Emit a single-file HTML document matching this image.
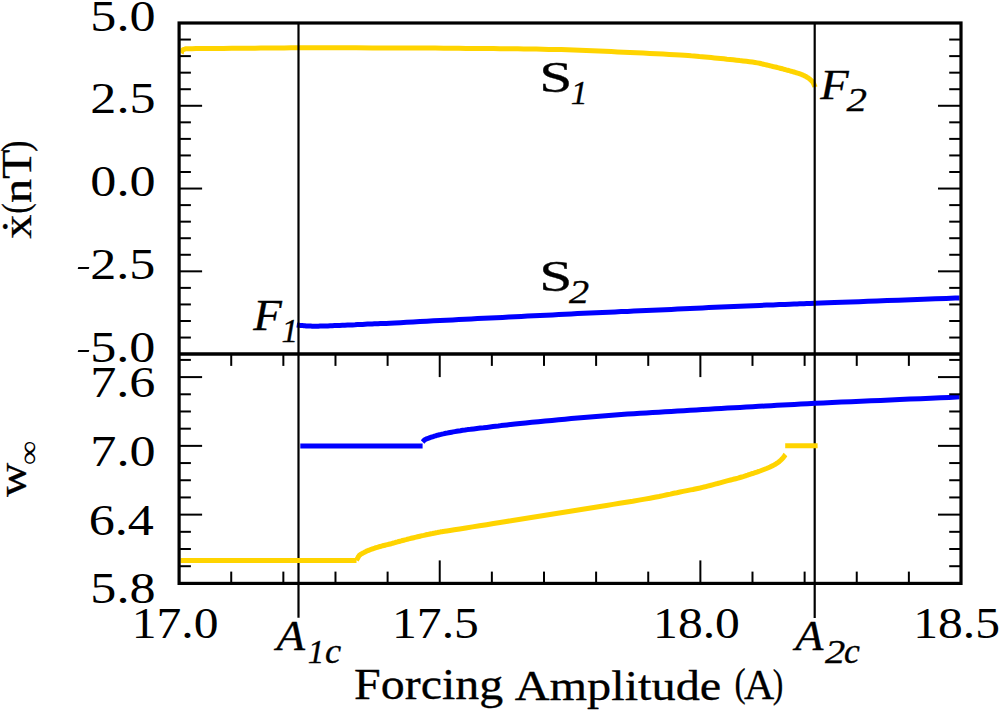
<!DOCTYPE html>
<html><head><meta charset="utf-8"><style>
html,body{margin:0;padding:0;background:#fff;}
body{width:1000px;height:710px;overflow:hidden;}
svg{display:block;}
text{font-family:"Liberation Serif",serif;fill:#000;}
</style></head><body>
<svg width="1000" height="710" viewBox="0 0 1000 710">
<defs><clipPath id="cu"><rect x="180.6" y="24.5" width="778.9" height="328.1"/></clipPath><clipPath id="cl"><rect x="180.6" y="355.6" width="778.9" height="226.3"/></clipPath></defs>
<rect width="1000" height="710" fill="#fff"/>
<g clip-path="url(#cu)">
<polyline points="181.2,53.2 181.4,52.9 181.5,52.4 181.6,51.9 181.8,51.3 182.2,50.7 182.6,50.1 183.2,49.7 184.0,49.3 184.7,49.1 185.3,48.9 185.8,48.8 186.5,48.7 187.7,48.7 189.5,48.7 192.2,48.7 196.0,48.6 201.2,48.5 207.8,48.5 215.3,48.4 223.4,48.4 231.8,48.3 240.1,48.3 248.0,48.2 255.0,48.2 260.8,48.1 265.6,48.1 269.8,48.0 274.0,48.0 278.6,47.9 284.2,47.9 291.1,47.8 300.0,47.8 311.4,47.8 325.0,47.8 340.2,47.8 356.2,47.8 372.5,47.9 388.1,47.9 402.5,48.0 415.0,48.0 425.6,48.0 435.1,48.1 443.7,48.2 451.6,48.2 458.9,48.3 466.0,48.4 472.9,48.4 480.0,48.5 487.0,48.6 493.6,48.6 499.8,48.7 505.9,48.7 511.9,48.8 517.9,48.8 523.9,48.9 530.0,49.0 536.2,49.1 542.5,49.2 548.8,49.4 555.0,49.5 561.2,49.6 567.5,49.8 573.8,50.0 580.0,50.2 586.2,50.4 592.5,50.7 598.8,51.0 605.0,51.3 611.2,51.6 617.5,51.9 623.8,52.2 630.0,52.5 636.4,52.8 643.1,53.1 649.8,53.4 656.6,53.8 663.1,54.1 669.3,54.4 674.9,54.7 680.0,55.0 684.3,55.3 688.0,55.5 691.2,55.8 694.1,56.0 696.7,56.2 699.3,56.5 702.0,56.7 705.0,57.0 708.1,57.3 711.2,57.6 714.4,57.9 717.5,58.2 720.6,58.5 723.8,58.8 726.9,59.2 730.0,59.5 733.2,59.8 736.5,60.2 739.8,60.6 743.1,60.9 746.4,61.3 749.5,61.7 752.4,62.1 755.0,62.5 757.4,62.9 759.6,63.3 761.6,63.8 763.4,64.2 765.2,64.6 766.8,65.0 768.4,65.4 770.0,65.8 771.5,66.1 772.9,66.5 774.1,66.8 775.3,67.0 776.5,67.3 777.6,67.6 778.8,67.9 780.0,68.2 781.2,68.5 782.5,68.8 783.8,69.2 785.0,69.5 786.2,69.9 787.5,70.2 788.8,70.5 790.0,70.9 791.3,71.3 792.6,71.6 793.9,72.0 795.2,72.4 796.5,72.8 797.8,73.2 798.9,73.5 800.0,73.9 801.0,74.3 801.8,74.6 802.6,74.9 803.4,75.3 804.1,75.6 804.7,75.9 805.4,76.3 806.0,76.6 806.6,76.9 807.2,77.3 807.7,77.6 808.2,77.9 808.7,78.3 809.1,78.6 809.6,78.9 810.0,79.3 810.4,79.7 810.8,80.0 811.2,80.4 811.6,80.8 812.0,81.2 812.3,81.6 812.7,82.0 813.0,82.5 813.3,83.0 813.6,83.6 813.9,84.3 814.2,85.0 814.4,85.6 814.7,86.2 814.9,86.6 815.0,87.0" fill="none" stroke="#FFD400" stroke-width="5.0" stroke-linejoin="round"/>
<polyline points="296.8,325.0 297.4,325.1 298.2,325.2 299.2,325.3 300.3,325.4 301.4,325.5 302.6,325.6 303.8,325.7 305.0,325.8 306.1,325.9 307.3,325.9 308.4,326.0 309.6,326.1 310.8,326.1 312.1,326.2 313.5,326.2 315.0,326.2 316.6,326.2 318.3,326.2 320.0,326.1 321.9,326.1 323.8,326.0 325.8,325.9 327.9,325.9 330.0,325.8 332.3,325.7 334.6,325.6 337.1,325.5 339.7,325.4 342.3,325.3 344.9,325.2 347.5,325.1 350.0,325.0 352.5,324.9 355.0,324.8 357.5,324.6 360.0,324.5 362.5,324.4 365.0,324.2 367.5,324.1 370.0,324.0 372.3,323.9 374.3,323.8 376.2,323.8 378.1,323.7 380.3,323.6 382.9,323.5 386.1,323.4 390.0,323.2 394.8,323.0 400.4,322.7 406.6,322.3 413.1,322.0 419.9,321.6 426.8,321.2 433.5,320.8 440.0,320.5 446.2,320.2 452.5,319.9 458.8,319.5 465.0,319.2 471.2,318.9 477.5,318.6 483.8,318.3 490.0,318.0 496.2,317.7 502.5,317.4 508.8,317.1 515.0,316.8 521.2,316.4 527.5,316.1 533.8,315.8 540.0,315.5 546.2,315.2 552.5,314.9 558.8,314.5 565.0,314.2 571.2,313.9 577.5,313.6 583.8,313.3 590.0,313.0 596.2,312.7 602.5,312.4 608.8,312.2 615.0,311.9 621.2,311.6 627.5,311.4 633.8,311.1 640.0,310.8 646.2,310.5 652.5,310.2 658.8,309.9 665.0,309.7 671.2,309.4 677.5,309.1 683.8,308.8 690.0,308.5 696.2,308.2 702.5,307.9 708.8,307.6 715.0,307.3 721.2,307.0 727.5,306.8 733.8,306.5 740.0,306.2 746.4,305.9 753.1,305.7 759.8,305.4 766.6,305.1 773.1,304.9 779.3,304.6 784.9,304.4 790.0,304.2 794.1,304.0 797.1,303.9 799.6,303.8 801.8,303.8 804.0,303.7 806.7,303.6 810.3,303.5 815.0,303.3 820.8,303.1 827.4,302.8 834.5,302.6 842.2,302.3 850.4,302.0 859.0,301.7 867.9,301.3 877.0,301.0 887.1,300.6 898.6,300.2 910.9,299.7 923.4,299.3 935.3,298.8 946.2,298.4 955.3,298.1 962.0,297.8" fill="none" stroke="#0000FF" stroke-width="5.0" stroke-linejoin="round"/>
</g>
<line x1="298.50" y1="23.00" x2="298.50" y2="617.80" stroke="#000" stroke-width="2.2" stroke-linecap="butt"/>
<line x1="814.70" y1="23.00" x2="814.70" y2="618.00" stroke="#000" stroke-width="2.2" stroke-linecap="butt"/>
<g clip-path="url(#cl)">
<polyline points="300.3,446.0 422.6,446.0" fill="none" stroke="#0000FF" stroke-width="5.0" stroke-linejoin="round"/>
<polyline points="422.6,442.0 422.8,441.8 423.0,441.6 423.2,441.3 423.5,440.9 423.8,440.6 424.2,440.2 424.6,439.9 425.0,439.6 425.5,439.3 426.1,439.1 426.7,438.8 427.3,438.6 428.0,438.3 428.7,438.1 429.4,437.8 430.0,437.6 430.6,437.4 431.2,437.2 431.9,437.0 432.5,436.8 433.1,436.6 433.8,436.4 434.4,436.2 435.0,436.0 435.6,435.8 436.1,435.7 436.7,435.5 437.2,435.3 437.8,435.2 438.4,435.0 439.1,434.8 440.0,434.6 441.0,434.4 442.0,434.1 443.2,433.9 444.4,433.6 445.7,433.3 447.0,433.1 448.5,432.8 450.0,432.5 451.6,432.2 453.2,431.9 454.8,431.6 456.6,431.3 458.4,431.0 460.4,430.7 462.6,430.3 465.0,430.0 467.6,429.6 470.5,429.3 473.6,428.9 476.9,428.5 480.2,428.1 483.5,427.8 486.8,427.4 490.0,427.0 493.0,426.6 495.7,426.3 498.3,426.0 500.9,425.6 503.8,425.3 507.0,424.9 510.7,424.5 515.0,424.0 520.1,423.5 525.7,422.9 531.9,422.3 538.4,421.7 545.2,421.0 551.9,420.4 558.6,419.8 565.0,419.2 571.2,418.6 577.5,418.1 583.8,417.5 590.0,417.0 596.2,416.5 602.5,416.0 608.8,415.5 615.0,415.0 621.2,414.6 627.5,414.1 633.8,413.7 640.0,413.3 646.2,412.9 652.5,412.6 658.8,412.2 665.0,411.8 671.2,411.4 677.5,411.0 683.8,410.7 690.0,410.3 696.2,409.9 702.5,409.5 708.8,409.2 715.0,408.8 721.2,408.4 727.5,408.1 733.8,407.7 740.0,407.4 746.2,407.0 752.5,406.7 758.8,406.3 765.0,406.0 771.1,405.7 776.9,405.3 782.7,405.0 788.4,404.7 794.4,404.4 800.7,404.0 807.6,403.7 815.0,403.3 823.2,402.9 832.1,402.5 841.4,402.1 851.1,401.7 861.0,401.3 870.9,400.8 880.6,400.4 890.0,400.0 899.6,399.6 909.9,399.1 920.4,398.7 930.7,398.2 940.4,397.8 949.1,397.4 956.5,397.0 962.0,396.8" fill="none" stroke="#0000FF" stroke-width="5.0" stroke-linejoin="round"/>
<polyline points="179.0,560.6 356.5,560.6" fill="none" stroke="#FFD400" stroke-width="5.0" stroke-linejoin="round"/>
<polyline points="356.5,560.3 356.6,560.1 356.8,559.8 356.9,559.5 357.1,559.1 357.3,558.7 357.6,558.3 357.8,557.9 358.0,557.5 358.2,557.2 358.4,556.8 358.6,556.5 358.8,556.1 359.0,555.8 359.3,555.5 359.6,555.1 360.0,554.8 360.5,554.5 361.0,554.1 361.7,553.7 362.3,553.4 363.0,553.0 363.7,552.7 364.4,552.3 365.0,552.0 365.6,551.7 366.1,551.4 366.7,551.2 367.2,550.9 367.8,550.7 368.4,550.4 369.1,550.1 370.0,549.8 371.0,549.4 372.1,549.0 373.4,548.6 374.7,548.2 376.0,547.7 377.4,547.3 378.7,546.9 380.0,546.5 381.2,546.2 382.5,545.8 383.8,545.5 385.0,545.2 386.2,544.9 387.5,544.6 388.8,544.3 390.0,544.0 391.2,543.7 392.5,543.3 393.8,543.0 395.0,542.6 396.2,542.2 397.5,541.9 398.8,541.5 400.0,541.2 401.2,540.9 402.5,540.5 403.8,540.2 405.0,539.9 406.2,539.6 407.5,539.2 408.8,538.9 410.0,538.6 411.2,538.3 412.5,538.0 413.8,537.7 415.0,537.4 416.2,537.1 417.5,536.8 418.8,536.5 420.0,536.2 421.2,535.9 422.5,535.6 423.8,535.4 425.0,535.1 426.2,534.8 427.5,534.5 428.8,534.3 430.0,534.0 431.2,533.7 432.5,533.5 433.8,533.2 435.0,533.0 436.2,532.7 437.5,532.5 438.8,532.2 440.0,532.0 441.0,531.8 441.6,531.7 442.0,531.7 442.5,531.6 443.3,531.5 444.7,531.3 446.8,531.0 450.0,530.5 454.3,529.8 459.7,529.0 465.8,528.0 472.5,526.9 479.5,525.8 486.6,524.7 493.5,523.5 500.0,522.5 506.2,521.5 512.5,520.5 518.8,519.5 525.0,518.5 531.2,517.5 537.5,516.5 543.8,515.5 550.0,514.5 556.2,513.5 562.5,512.5 568.8,511.5 575.0,510.5 581.2,509.5 587.5,508.5 593.8,507.5 600.0,506.5 606.4,505.5 613.0,504.4 619.6,503.3 626.2,502.2 632.7,501.2 638.9,500.1 644.7,499.1 650.0,498.2 654.8,497.3 659.1,496.5 663.2,495.6 666.9,494.8 670.4,494.1 673.7,493.3 676.9,492.7 680.0,492.0 683.0,491.4 685.7,490.9 688.2,490.4 690.6,489.9 692.9,489.5 695.2,489.0 697.6,488.5 700.0,488.0 702.5,487.4 705.0,486.8 707.5,486.1 710.0,485.5 712.5,484.8 715.0,484.1 717.5,483.5 720.0,482.8 722.6,482.1 725.2,481.4 727.9,480.7 730.6,480.0 733.2,479.3 735.7,478.7 738.0,478.1 740.0,477.5 741.7,477.0 743.2,476.6 744.5,476.2 745.6,475.8 746.7,475.4 747.7,475.1 748.8,474.7 750.0,474.3 751.2,473.9 752.5,473.5 753.8,473.1 755.0,472.7 756.2,472.3 757.5,471.9 758.8,471.4 760.0,471.0 761.3,470.5 762.6,470.0 763.9,469.5 765.2,469.0 766.5,468.5 767.7,468.0 768.9,467.5 770.0,467.0 771.0,466.5 772.0,466.0 772.9,465.6 773.8,465.1 774.7,464.6 775.5,464.2 776.2,463.7 777.0,463.2 777.7,462.7 778.4,462.2 779.1,461.7 779.7,461.1 780.3,460.6 780.9,460.1 781.5,459.5 782.0,459.0 782.5,458.4 783.1,457.8 783.6,457.1 784.1,456.5 784.5,455.9 784.9,455.3 785.2,454.8 785.5,454.5" fill="none" stroke="#FFD400" stroke-width="5.0" stroke-linejoin="round"/>
<polyline points="785.2,445.8 817.6,445.8" fill="none" stroke="#FFD400" stroke-width="5.0" stroke-linejoin="round"/>
</g>
<line x1="179.10" y1="337.55" x2="190.90" y2="337.55" stroke="#000" stroke-width="2.0" stroke-linecap="butt"/>
<line x1="961.00" y1="337.55" x2="949.20" y2="337.55" stroke="#000" stroke-width="2.0" stroke-linecap="butt"/>
<line x1="179.10" y1="320.99" x2="190.90" y2="320.99" stroke="#000" stroke-width="2.0" stroke-linecap="butt"/>
<line x1="961.00" y1="320.99" x2="949.20" y2="320.99" stroke="#000" stroke-width="2.0" stroke-linecap="butt"/>
<line x1="179.10" y1="304.44" x2="190.90" y2="304.44" stroke="#000" stroke-width="2.0" stroke-linecap="butt"/>
<line x1="961.00" y1="304.44" x2="949.20" y2="304.44" stroke="#000" stroke-width="2.0" stroke-linecap="butt"/>
<line x1="179.10" y1="287.88" x2="190.90" y2="287.88" stroke="#000" stroke-width="2.0" stroke-linecap="butt"/>
<line x1="961.00" y1="287.88" x2="949.20" y2="287.88" stroke="#000" stroke-width="2.0" stroke-linecap="butt"/>
<line x1="179.10" y1="271.33" x2="202.10" y2="271.33" stroke="#000" stroke-width="2.0" stroke-linecap="butt"/>
<line x1="961.00" y1="271.33" x2="938.00" y2="271.33" stroke="#000" stroke-width="2.0" stroke-linecap="butt"/>
<line x1="179.10" y1="254.77" x2="190.90" y2="254.77" stroke="#000" stroke-width="2.0" stroke-linecap="butt"/>
<line x1="961.00" y1="254.77" x2="949.20" y2="254.77" stroke="#000" stroke-width="2.0" stroke-linecap="butt"/>
<line x1="179.10" y1="238.22" x2="190.90" y2="238.22" stroke="#000" stroke-width="2.0" stroke-linecap="butt"/>
<line x1="961.00" y1="238.22" x2="949.20" y2="238.22" stroke="#000" stroke-width="2.0" stroke-linecap="butt"/>
<line x1="179.10" y1="221.66" x2="190.90" y2="221.66" stroke="#000" stroke-width="2.0" stroke-linecap="butt"/>
<line x1="961.00" y1="221.66" x2="949.20" y2="221.66" stroke="#000" stroke-width="2.0" stroke-linecap="butt"/>
<line x1="179.10" y1="205.11" x2="190.90" y2="205.11" stroke="#000" stroke-width="2.0" stroke-linecap="butt"/>
<line x1="961.00" y1="205.11" x2="949.20" y2="205.11" stroke="#000" stroke-width="2.0" stroke-linecap="butt"/>
<line x1="179.10" y1="188.55" x2="202.10" y2="188.55" stroke="#000" stroke-width="2.0" stroke-linecap="butt"/>
<line x1="961.00" y1="188.55" x2="938.00" y2="188.55" stroke="#000" stroke-width="2.0" stroke-linecap="butt"/>
<line x1="179.10" y1="172.00" x2="190.90" y2="172.00" stroke="#000" stroke-width="2.0" stroke-linecap="butt"/>
<line x1="961.00" y1="172.00" x2="949.20" y2="172.00" stroke="#000" stroke-width="2.0" stroke-linecap="butt"/>
<line x1="179.10" y1="155.44" x2="190.90" y2="155.44" stroke="#000" stroke-width="2.0" stroke-linecap="butt"/>
<line x1="961.00" y1="155.44" x2="949.20" y2="155.44" stroke="#000" stroke-width="2.0" stroke-linecap="butt"/>
<line x1="179.10" y1="138.89" x2="190.90" y2="138.89" stroke="#000" stroke-width="2.0" stroke-linecap="butt"/>
<line x1="961.00" y1="138.89" x2="949.20" y2="138.89" stroke="#000" stroke-width="2.0" stroke-linecap="butt"/>
<line x1="179.10" y1="122.33" x2="190.90" y2="122.33" stroke="#000" stroke-width="2.0" stroke-linecap="butt"/>
<line x1="961.00" y1="122.33" x2="949.20" y2="122.33" stroke="#000" stroke-width="2.0" stroke-linecap="butt"/>
<line x1="179.10" y1="105.78" x2="202.10" y2="105.78" stroke="#000" stroke-width="2.0" stroke-linecap="butt"/>
<line x1="961.00" y1="105.78" x2="938.00" y2="105.78" stroke="#000" stroke-width="2.0" stroke-linecap="butt"/>
<line x1="179.10" y1="89.22" x2="190.90" y2="89.22" stroke="#000" stroke-width="2.0" stroke-linecap="butt"/>
<line x1="961.00" y1="89.22" x2="949.20" y2="89.22" stroke="#000" stroke-width="2.0" stroke-linecap="butt"/>
<line x1="179.10" y1="72.67" x2="190.90" y2="72.67" stroke="#000" stroke-width="2.0" stroke-linecap="butt"/>
<line x1="961.00" y1="72.67" x2="949.20" y2="72.67" stroke="#000" stroke-width="2.0" stroke-linecap="butt"/>
<line x1="179.10" y1="56.11" x2="190.90" y2="56.11" stroke="#000" stroke-width="2.0" stroke-linecap="butt"/>
<line x1="961.00" y1="56.11" x2="949.20" y2="56.11" stroke="#000" stroke-width="2.0" stroke-linecap="butt"/>
<line x1="179.10" y1="39.56" x2="190.90" y2="39.56" stroke="#000" stroke-width="2.0" stroke-linecap="butt"/>
<line x1="961.00" y1="39.56" x2="949.20" y2="39.56" stroke="#000" stroke-width="2.0" stroke-linecap="butt"/>
<line x1="179.10" y1="566.21" x2="190.90" y2="566.21" stroke="#000" stroke-width="2.0" stroke-linecap="butt"/>
<line x1="961.00" y1="566.21" x2="949.20" y2="566.21" stroke="#000" stroke-width="2.0" stroke-linecap="butt"/>
<line x1="179.10" y1="549.02" x2="190.90" y2="549.02" stroke="#000" stroke-width="2.0" stroke-linecap="butt"/>
<line x1="961.00" y1="549.02" x2="949.20" y2="549.02" stroke="#000" stroke-width="2.0" stroke-linecap="butt"/>
<line x1="179.10" y1="531.82" x2="190.90" y2="531.82" stroke="#000" stroke-width="2.0" stroke-linecap="butt"/>
<line x1="961.00" y1="531.82" x2="949.20" y2="531.82" stroke="#000" stroke-width="2.0" stroke-linecap="butt"/>
<line x1="179.10" y1="514.63" x2="202.10" y2="514.63" stroke="#000" stroke-width="2.0" stroke-linecap="butt"/>
<line x1="961.00" y1="514.63" x2="938.00" y2="514.63" stroke="#000" stroke-width="2.0" stroke-linecap="butt"/>
<line x1="179.10" y1="497.44" x2="190.90" y2="497.44" stroke="#000" stroke-width="2.0" stroke-linecap="butt"/>
<line x1="961.00" y1="497.44" x2="949.20" y2="497.44" stroke="#000" stroke-width="2.0" stroke-linecap="butt"/>
<line x1="179.10" y1="480.25" x2="190.90" y2="480.25" stroke="#000" stroke-width="2.0" stroke-linecap="butt"/>
<line x1="961.00" y1="480.25" x2="949.20" y2="480.25" stroke="#000" stroke-width="2.0" stroke-linecap="butt"/>
<line x1="179.10" y1="463.06" x2="190.90" y2="463.06" stroke="#000" stroke-width="2.0" stroke-linecap="butt"/>
<line x1="961.00" y1="463.06" x2="949.20" y2="463.06" stroke="#000" stroke-width="2.0" stroke-linecap="butt"/>
<line x1="179.10" y1="445.87" x2="202.10" y2="445.87" stroke="#000" stroke-width="2.0" stroke-linecap="butt"/>
<line x1="961.00" y1="445.87" x2="938.00" y2="445.87" stroke="#000" stroke-width="2.0" stroke-linecap="butt"/>
<line x1="179.10" y1="428.68" x2="190.90" y2="428.68" stroke="#000" stroke-width="2.0" stroke-linecap="butt"/>
<line x1="961.00" y1="428.68" x2="949.20" y2="428.68" stroke="#000" stroke-width="2.0" stroke-linecap="butt"/>
<line x1="179.10" y1="411.48" x2="190.90" y2="411.48" stroke="#000" stroke-width="2.0" stroke-linecap="butt"/>
<line x1="961.00" y1="411.48" x2="949.20" y2="411.48" stroke="#000" stroke-width="2.0" stroke-linecap="butt"/>
<line x1="179.10" y1="394.29" x2="190.90" y2="394.29" stroke="#000" stroke-width="2.0" stroke-linecap="butt"/>
<line x1="961.00" y1="394.29" x2="949.20" y2="394.29" stroke="#000" stroke-width="2.0" stroke-linecap="butt"/>
<line x1="179.10" y1="377.10" x2="202.10" y2="377.10" stroke="#000" stroke-width="2.0" stroke-linecap="butt"/>
<line x1="961.00" y1="377.10" x2="938.00" y2="377.10" stroke="#000" stroke-width="2.0" stroke-linecap="butt"/>
<line x1="179.10" y1="359.91" x2="190.90" y2="359.91" stroke="#000" stroke-width="2.0" stroke-linecap="butt"/>
<line x1="961.00" y1="359.91" x2="949.20" y2="359.91" stroke="#000" stroke-width="2.0" stroke-linecap="butt"/>
<line x1="231.23" y1="583.40" x2="231.23" y2="571.60" stroke="#000" stroke-width="2.0" stroke-linecap="butt"/>
<line x1="231.23" y1="354.10" x2="231.23" y2="365.90" stroke="#000" stroke-width="2.0" stroke-linecap="butt"/>
<line x1="283.35" y1="583.40" x2="283.35" y2="571.60" stroke="#000" stroke-width="2.0" stroke-linecap="butt"/>
<line x1="283.35" y1="354.10" x2="283.35" y2="365.90" stroke="#000" stroke-width="2.0" stroke-linecap="butt"/>
<line x1="335.48" y1="583.40" x2="335.48" y2="571.60" stroke="#000" stroke-width="2.0" stroke-linecap="butt"/>
<line x1="335.48" y1="354.10" x2="335.48" y2="365.90" stroke="#000" stroke-width="2.0" stroke-linecap="butt"/>
<line x1="387.61" y1="583.40" x2="387.61" y2="571.60" stroke="#000" stroke-width="2.0" stroke-linecap="butt"/>
<line x1="387.61" y1="354.10" x2="387.61" y2="365.90" stroke="#000" stroke-width="2.0" stroke-linecap="butt"/>
<line x1="439.73" y1="583.40" x2="439.73" y2="560.40" stroke="#000" stroke-width="2.0" stroke-linecap="butt"/>
<line x1="439.73" y1="354.10" x2="439.73" y2="377.10" stroke="#000" stroke-width="2.0" stroke-linecap="butt"/>
<line x1="491.86" y1="583.40" x2="491.86" y2="571.60" stroke="#000" stroke-width="2.0" stroke-linecap="butt"/>
<line x1="491.86" y1="354.10" x2="491.86" y2="365.90" stroke="#000" stroke-width="2.0" stroke-linecap="butt"/>
<line x1="543.99" y1="583.40" x2="543.99" y2="571.60" stroke="#000" stroke-width="2.0" stroke-linecap="butt"/>
<line x1="543.99" y1="354.10" x2="543.99" y2="365.90" stroke="#000" stroke-width="2.0" stroke-linecap="butt"/>
<line x1="596.11" y1="583.40" x2="596.11" y2="571.60" stroke="#000" stroke-width="2.0" stroke-linecap="butt"/>
<line x1="596.11" y1="354.10" x2="596.11" y2="365.90" stroke="#000" stroke-width="2.0" stroke-linecap="butt"/>
<line x1="648.24" y1="583.40" x2="648.24" y2="571.60" stroke="#000" stroke-width="2.0" stroke-linecap="butt"/>
<line x1="648.24" y1="354.10" x2="648.24" y2="365.90" stroke="#000" stroke-width="2.0" stroke-linecap="butt"/>
<line x1="700.37" y1="583.40" x2="700.37" y2="560.40" stroke="#000" stroke-width="2.0" stroke-linecap="butt"/>
<line x1="700.37" y1="354.10" x2="700.37" y2="377.10" stroke="#000" stroke-width="2.0" stroke-linecap="butt"/>
<line x1="752.49" y1="583.40" x2="752.49" y2="571.60" stroke="#000" stroke-width="2.0" stroke-linecap="butt"/>
<line x1="752.49" y1="354.10" x2="752.49" y2="365.90" stroke="#000" stroke-width="2.0" stroke-linecap="butt"/>
<line x1="804.62" y1="583.40" x2="804.62" y2="571.60" stroke="#000" stroke-width="2.0" stroke-linecap="butt"/>
<line x1="804.62" y1="354.10" x2="804.62" y2="365.90" stroke="#000" stroke-width="2.0" stroke-linecap="butt"/>
<line x1="856.75" y1="583.40" x2="856.75" y2="571.60" stroke="#000" stroke-width="2.0" stroke-linecap="butt"/>
<line x1="856.75" y1="354.10" x2="856.75" y2="365.90" stroke="#000" stroke-width="2.0" stroke-linecap="butt"/>
<line x1="908.87" y1="583.40" x2="908.87" y2="571.60" stroke="#000" stroke-width="2.0" stroke-linecap="butt"/>
<line x1="908.87" y1="354.10" x2="908.87" y2="365.90" stroke="#000" stroke-width="2.0" stroke-linecap="butt"/>
<polygon points="78.3,267 89.3,267 88.7,269 77.7,269" fill="#000"/>
<polygon points="78.3,349.9 89.3,349.9 88.7,351.9 77.7,351.9" fill="#000"/>
<rect x="179.1" y="23.0" width="781.90" height="560.40" fill="none" stroke="#000" stroke-width="3.2"/>
<line x1="179.1" y1="354.1" x2="961.0" y2="354.1" stroke="#000" stroke-width="3.5"/>
<text transform="translate(90.35,30.80) scale(1.1990,0.9969)" font-size="43.5">5.0</text>
<text transform="translate(90.35,112.90) scale(1.1990,0.9969)" font-size="43.5">2.5</text>
<text transform="translate(90.35,196.30) scale(1.1990,0.9969)" font-size="43.5">0.0</text>
<text transform="translate(90.15,279.30) scale(1.1990,0.9969)" font-size="43.5">2.5</text>
<text transform="translate(90.15,361.70) scale(1.1990,0.9969)" font-size="43.5">5.0</text>
<text transform="translate(90.25,397.00) scale(1.1990,0.9969)" font-size="43.5">7.6</text>
<text transform="translate(90.35,465.90) scale(1.1990,0.9969)" font-size="43.5">7.0</text>
<text transform="translate(88.75,535.00) scale(1.1990,0.9969)" font-size="43.5">6.4</text>
<text transform="translate(90.35,603.40) scale(1.1990,0.9969)" font-size="43.5">5.8</text>
<text transform="translate(131.64,638.30) scale(1.1408,1.0207)" font-size="43.5">17.0</text>
<text transform="translate(392.04,638.30) scale(1.1408,1.0207)" font-size="43.5">17.5</text>
<text transform="translate(653.09,638.20) scale(1.1408,1.0207)" font-size="43.5">18.0</text>
<text transform="translate(913.19,638.20) scale(1.1408,1.0207)" font-size="43.5">18.5</text>
<text transform="translate(354.08,698.90) scale(1.1159,1.0108)" font-size="43" stroke="#000" stroke-width="0.3">Forcing</text>
<text transform="translate(514.70,699.55) scale(1.1231,0.9949)" font-size="43" stroke="#000" stroke-width="0.3">Amplitude</text>
<text transform="translate(734.44,696.29) scale(0.7818,0.9237)" font-size="43" stroke="#000" stroke-width="0.3">(</text>
<text transform="translate(744.10,698.70) scale(0.9742,0.9964)" font-size="43" stroke="#000" stroke-width="0.3">A</text>
<text transform="translate(772.87,697.01) scale(0.7333,0.9486)" font-size="43" stroke="#000" stroke-width="0.3">)</text>
<text transform="translate(539.15,92.20) scale(1.3833,1.0214)" font-size="43" stroke="#000" stroke-width="0.3">S</text>
<text transform="translate(570.75,104.20) scale(1.0545,1.0667)" font-size="32" font-style="italic" stroke="#000" stroke-width="0.3">1</text>
<text transform="translate(539.15,291.20) scale(1.3833,1.0357)" font-size="43" stroke="#000" stroke-width="0.3">S</text>
<text transform="translate(569.00,302.80) scale(1.2600,1.0810)" font-size="32" font-style="italic" stroke="#000" stroke-width="0.3">2</text>
<text transform="translate(820.20,99.00) scale(1.0815,1.0000)" font-size="43" font-style="italic" stroke="#000" stroke-width="0.3">F</text>
<text transform="translate(846.60,110.60) scale(1.2800,1.0667)" font-size="32" font-style="italic" stroke="#000" stroke-width="0.3">2</text>
<text transform="translate(253.20,330.20) scale(1.0889,1.0071)" font-size="43" font-style="italic" stroke="#000" stroke-width="0.3">F</text>
<text transform="translate(281.56,342.20) scale(1.0364,1.0286)" font-size="32" font-style="italic" stroke="#000" stroke-width="0.3">1</text>
<text transform="translate(276.57,650.20) scale(1.0857,1.0000)" font-size="43" font-style="italic" stroke="#000" stroke-width="0.3">A</text>
<text transform="translate(307.76,663.00) scale(1.0364,1.0762)" font-size="32" font-style="italic" stroke="#000" stroke-width="0.3">1</text>
<text transform="translate(325.06,663.00) scale(1.1385,1.1467)" font-size="32" font-style="italic" stroke="#000" stroke-width="0.3">c</text>
<text transform="translate(795.14,650.00) scale(1.0714,0.9821)" font-size="43" font-style="italic" stroke="#000" stroke-width="0.3">A</text>
<text transform="translate(825.00,663.00) scale(1.2667,1.0714)" font-size="32" font-style="italic" stroke="#000" stroke-width="0.3">2</text>
<text transform="translate(843.88,663.00) scale(1.1154,1.1333)" font-size="32" font-style="italic" stroke="#000" stroke-width="0.3">c</text>
<text transform="translate(30.50,238.70) rotate(-90) scale(1.1476,1.0000)" font-size="42" stroke="#000" stroke-width="0.3">ẋ</text>
<text transform="translate(28.09,213.45) rotate(-90) scale(0.7273,0.9237)" font-size="42" stroke="#000" stroke-width="0.3">(</text>
<text transform="translate(30.50,203.05) rotate(-90) scale(1.1489,1.0000)" font-size="42" stroke="#000" stroke-width="0.3">nT</text>
<text transform="translate(28.81,151.80) rotate(-90) scale(0.8000,0.9486)" font-size="42" stroke="#000" stroke-width="0.3">)</text>
<text transform="translate(26.20,497.00) rotate(-90) scale(1.1300,1.0263)" font-size="42" stroke="#000" stroke-width="0.3">w</text>
<text transform="translate(37.81,464.94) rotate(-90) scale(1.1421,0.9364)" font-size="30">∞</text>
</svg>
</body></html>
